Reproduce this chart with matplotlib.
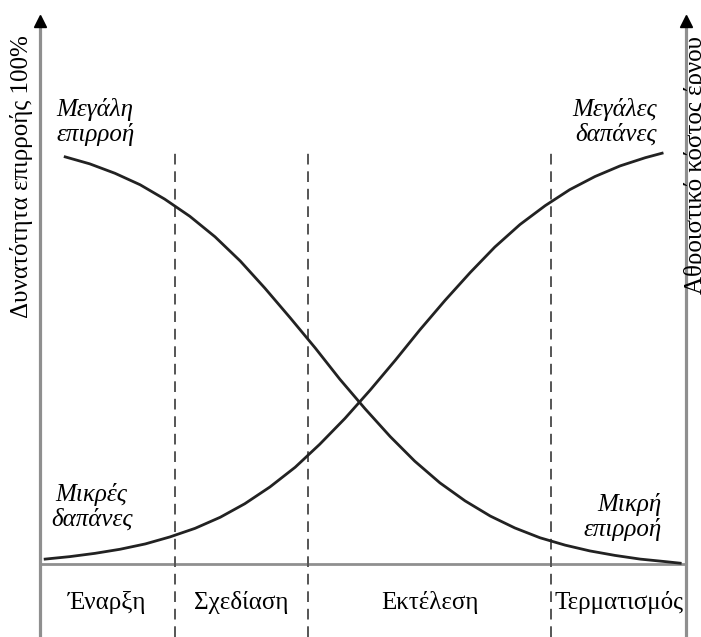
import numpy as np
from matplotlib import pyplot as plt

plt.rcParams['font.family'] = ['Liberation Serif', 'DejaVu Serif']

# project time (0-100 %) and level (0-100 %)
influence_x = [3.9, 7.7, 11.6, 15.5, 19.3, 23.2, 27.1, 31.0, 34.8, 38.7,
               42.6, 46.4, 50.3, 54.2, 58.0, 61.9, 65.8, 69.7, 73.5, 77.4,
               81.3, 85.1, 89.0, 92.9, 96.7, 99.1]
influence_y = [99.3, 97.6, 95.3, 92.5, 89.0, 84.8, 79.8, 73.9, 67.3, 60.1,
               52.7, 45.1, 37.9, 31.1, 25.1, 19.8, 15.4, 11.7, 8.8, 6.4,
               4.6, 3.2, 2.1, 1.2, 0.6, 0.2]

cost_x = [0.8, 4.6, 8.5, 12.4, 16.3, 20.1, 24.0, 27.9, 31.7, 35.6,
          39.5, 43.3, 47.2, 51.1, 55.0, 58.8, 62.7, 66.6, 70.4, 74.3,
          78.2, 82.0, 85.9, 89.8, 93.7, 96.3]
cost_y = [1.2, 1.8, 2.6, 3.6, 4.9, 6.6, 8.7, 11.4, 14.7, 18.8,
          23.6, 29.2, 35.5, 42.4, 49.7, 57.1, 64.3, 71.1, 77.3, 82.8,
          87.4, 91.3, 94.5, 97.1, 99.1, 100.2]

phase_bounds = [0, 20.9, 41.5, 79.1, 100]
phase_names = ["Έναρξη", "Σχεδίαση", "Εκτέλεση", "Τερματισμός"]

fig = plt.figure(figsize=(7.01, 6.37), dpi=100)
ax = fig.add_axes([0, 0, 1, 1])
ax.set_xlim(-6.19, 102.32)
ax.set_ylim(-17.8, 137.56)
ax.axis("off")

axis_color = "#8f8f8f"
# the two vertical axes with arrow heads
for xa in (phase_bounds[0], phase_bounds[-1]):
    ax.plot([xa, xa], [-17.8, 132], color=axis_color, lw=2.3, solid_capstyle="butt")
    ax.plot(xa, 132.4, marker="^", color="black", ms=9, mec="black")
# baseline
ax.plot([phase_bounds[0], phase_bounds[-1]], [0, 0], color=axis_color, lw=2)

# phase boundaries
for xb in phase_bounds[1:-1]:
    ax.plot([xb, xb], [-17.8, 101], color="#555555", lw=1.4,
            linestyle=(0, (5.5, 3.5)))

ax.plot(influence_x, influence_y, color="#222222", lw=2, solid_joinstyle="round")
ax.plot(cost_x, cost_y, color="#222222", lw=2, solid_joinstyle="round")

for i, name in enumerate(phase_names):
    xc = (phase_bounds[i] + phase_bounds[i + 1]) / 2
    ax.text(xc, -9.5, name, ha="center", va="center", fontsize=18)

ital = dict(fontsize=18, style="italic", linespacing=1.1)
ax.text(2.6, 107.8, "Μεγάλη\nεπιρροή", ha="left", va="center", **ital)
ax.text(95.5, 107.8, "Μεγάλες\nδαπάνες", ha="right", va="center", **ital)
ax.text(8.0, 13.9, "Μικρές\nδαπάνες", ha="center", va="center", multialignment="center", **ital)
ax.text(96.2, 11.5, "Μικρή\nεπιρροή", ha="right", va="center", multialignment="right", **ital)

ax.text(-2.8, 94.4, "Δυνατότητα επιρροής 100%", rotation=90,
        ha="center", va="center", fontsize=18)
ax.text(101.5, 97.3, "Αθροιστικό κόστος έργου", rotation=90,
        ha="center", va="center", fontsize=18, clip_on=False)

fig.savefig("out.png", dpi=100)
